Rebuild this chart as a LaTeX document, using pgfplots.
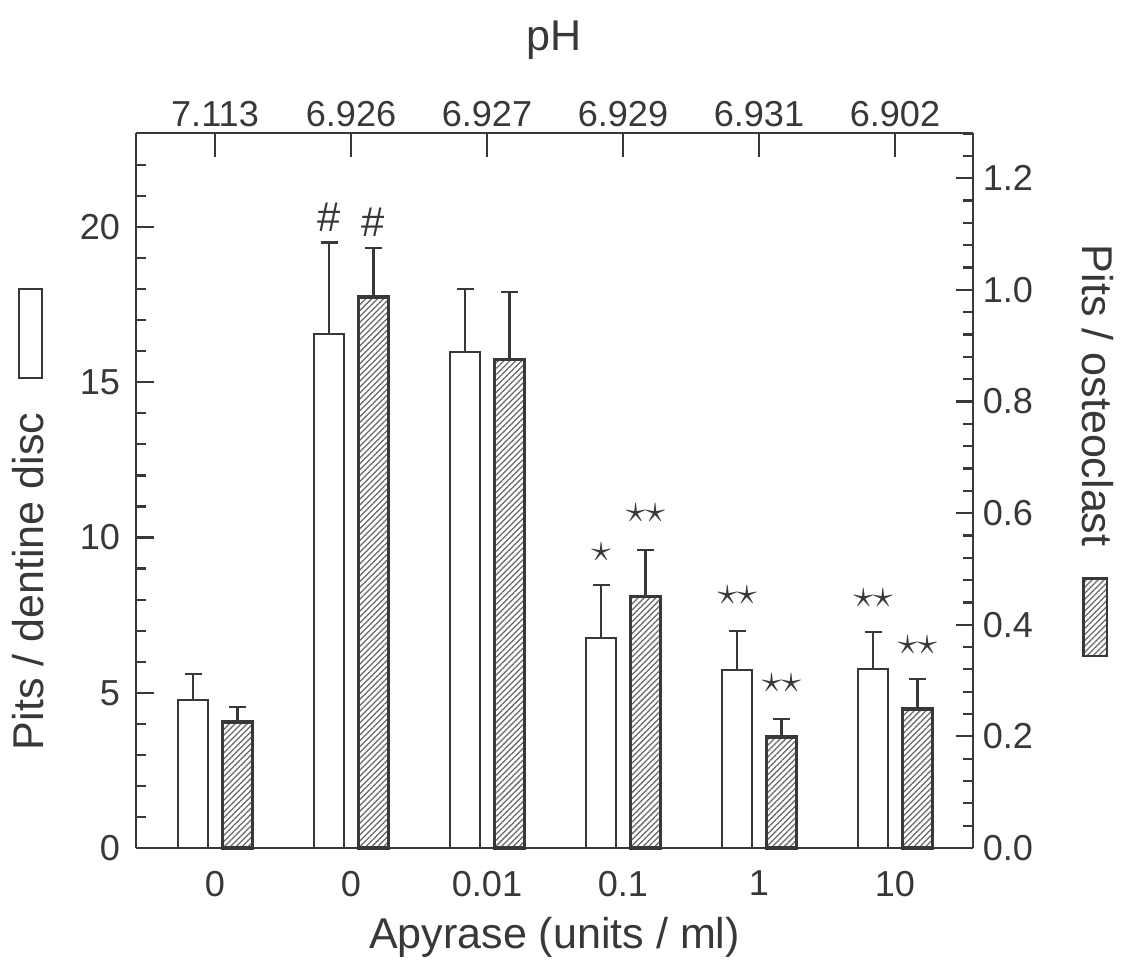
\documentclass[border=0pt]{standalone}
\usepackage{fontspec}
\setmainfont{Liberation Sans}
\usepackage{pgfplots}
\usepackage{pgfplotstable}
\pgfplotsset{compat=1.18}
\usetikzlibrary{patterns.meta}
\definecolor{ink}{HTML}{383838}

\pgfplotstableread{
x y e
0 4.77 0.83
1 16.55 2.95
2 15.97 2.03
3 6.76 1.71
4 5.73 1.26
5 5.76 1.20
}\dentine

\pgfplotstableread{
x y e
0 0.226 0.027
1 0.987 0.088
2 0.875 0.121
3 0.450 0.084
4 0.199 0.032
5 0.249 0.054
}\osteo

\pgfplotsset{
  common/.style={
    at={(0,0)}, anchor=south west, scale only axis,
    width=301.32pt, height=257.4pt,
    xmin=-0.581, xmax=5.574,
    axis line style={ink, line width=0.8pt},
    every tick/.style={ink, line width=0.8pt},
    tick align=inside,
    /pgf/number format/assume math mode=true,
    ticklabel style={font=\fontsize{13}{15}\selectfont, text=ink},
    label style={font=\fontsize{15.5}{18}\selectfont, text=ink},
    clip=false,
  },
}

\begin{document}
\begin{tikzpicture}
\useasboundingbox (-48.96pt,-42.12pt) rectangle (354.6pt,305.28pt);

% left axis: white bars
\begin{axis}[common,
  ymin=0, ymax=23.03,
  axis x line*=bottom, axis y line*=left,
  xtick={0,...,5}, xticklabels={0,0,0.01,0.1,1,10},
  x tick style={draw=none},
  xticklabel style={yshift=-4.7pt},
  ytick={0,5,10,15,20}, minor ytick={1,2,3,4,6,7,8,9,11,12,13,14,16,17,18,19,21,22},
  yticklabel style={xshift=-2.2pt},
  major tick length=6.4pt, minor tick length=3.6pt,
  xlabel={Apyrase (units / ml)},
  xlabel style={at={(axis description cs:0.5,-0.1245)}, anchor=center},
  ylabel={Pits / dentine disc\hspace{12pt}\tikz[baseline=-0.5pt]\draw[ink,line width=0.8pt,fill=white] (0,0) rectangle (32pt,8.4pt);},
  ylabel style={at={(axis description cs:-0.129,0.46)}, anchor=center},
]
\addplot[ybar, bar width=0.22, bar shift=0, draw=ink, fill=white, line width=0.75pt,
  error bars/.cd, y dir=plus, y explicit,
  error bar style={ink, line width=0.8pt},
  error mark=|,
  error mark options={ink, line width=0.8pt, mark size=3pt}]
  table[x expr=\thisrow{x}-0.16, y=y, y error=e] {\dentine};
\begin{scope}[font=\fontsize{15}{16}\selectfont, text=ink]
\node at (axis cs:0.84,20.3) {\#};
\node at (axis cs:1.165,20.15) {\#};
\node at (axis cs:2.84,9.53) {$\star$};
\node at (axis cs:3.165,10.79) {$\star\star$};
\node at (axis cs:3.84,8.15) {$\star\star$};
\node at (axis cs:4.165,5.31) {$\star\star$};
\node at (axis cs:4.84,8.05) {$\star\star$};
\node at (axis cs:5.165,6.54) {$\star\star$};
\end{scope}
\end{axis}

% right axis: hatched bars
\begin{axis}[common,
  ymin=0, ymax=1.281,
  axis x line=none, axis y line*=right,
  ytick={0,0.2,0.4,0.6,0.8,1.0,1.2},
  minor ytick={0.04,0.08,0.12,0.16,0.24,0.28,0.32,0.36,0.44,0.48,0.52,0.56,0.64,0.68,0.72,0.76,0.84,0.88,0.92,0.96,1.04,1.08,1.12,1.16,1.24,1.28},
  yticklabel style={/pgf/number format/.cd, fixed, fixed zerofill, precision=1},
  major tick length=6pt, minor tick length=3.6pt,
  ylabel={Pits / osteoclast\hspace{11pt}\tikz[baseline=-0.5pt]\draw[ink,line width=0.9pt,pattern={Lines[angle=45,distance=1.5pt,line width=0.45pt]},pattern color=black!60] (0,0) rectangle (28pt,8.4pt);},
  ylabel style={at={(axis description cs:1.149,0.555)}, anchor=center, rotate=180},
]
\addplot[ybar, bar width=0.22, bar shift=0, draw=ink, line width=1.2pt,
  pattern={Lines[angle=45,distance=1.5pt,line width=0.45pt]}, pattern color=black!60,
  error bars/.cd, y dir=plus, y explicit,
  error bar style={ink, line width=0.8pt},
  error mark=|,
  error mark options={ink, line width=0.8pt, mark size=3pt}]
  table[x expr=\thisrow{x}+0.165, y=y, y error=e] {\osteo};
\end{axis}

% top axis: pH
\begin{axis}[common,
  ymin=0, ymax=1,
  axis y line=none, axis x line*=top,
  xtick={0,...,5}, xticklabels={7.113,6.926,6.927,6.929,6.931,6.902},
  xticklabel style={yshift=-1.5pt},
  major tick length=8.6pt,
  xlabel={pH},
  xlabel style={at={(axis description cs:0.5,1.130)}, anchor=center},
]
\addplot[draw=none, forget plot] coordinates {(0,0)};
\end{axis}
\end{tikzpicture}
\end{document}
